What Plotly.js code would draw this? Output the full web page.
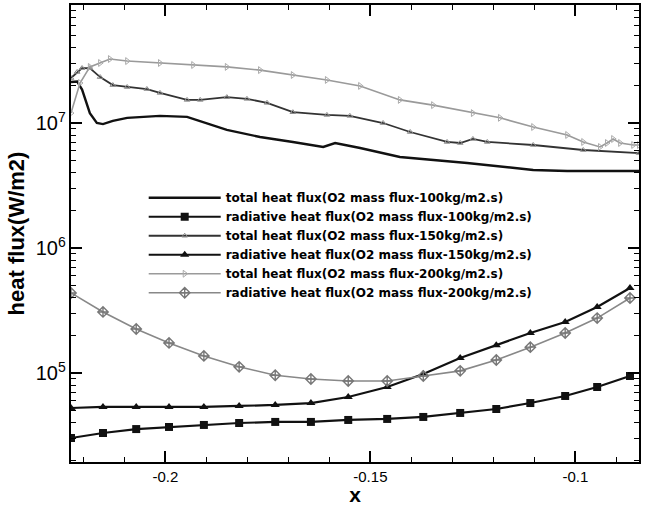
<!DOCTYPE html>
<html>
<head>
<meta charset="utf-8">
<script src="https://cdn.plot.ly/plotly-3.0.1.min.js"></script>
<style>html,body{margin:0;padding:0;background:#fff;}#chart{width:645px;height:506px;}</style>
</head>
<body>
<div id="chart"></div>
<script>
// Series names
const seriesNames = [
  'total heat flux(O2 mass flux-100kg/m2.s)',
  'radiative heat flux(O2 mass flux-100kg/m2.s)',
  'total heat flux(O2 mass flux-150kg/m2.s)',
  'radiative heat flux(O2 mass flux-150kg/m2.s)',
  'total heat flux(O2 mass flux-200kg/m2.s)',
  'radiative heat flux(O2 mass flux-200kg/m2.s)'
];

// total heat flux, 100 kg/m2.s
const xTotal100 = [-0.223,-0.2215,-0.2203,-0.2184,-0.2167,-0.2152,-0.2128,-0.2093,-0.2013,-0.1947,-0.1850,-0.1769,-0.1689,-0.1647,-0.1615,-0.1586,-0.1525,-0.1428,-0.1264,-0.1103,-0.1020,-0.0845];
const yTotal100 = [2.13e7,2.15e7,1.85e7,1.20e7,1.00e7,9.8e6,1.04e7,1.10e7,1.14e7,1.12e7,8.8e6,7.73e6,7.05e6,6.67e6,6.43e6,6.92e6,6.31e6,5.35e6,4.79e6,4.21e6,4.13e6,4.13e6];

// total heat flux, 150 kg/m2.s
const xTotal150 = [-0.223,-0.2215,-0.2203,-0.2184,-0.2159,-0.2128,-0.2093,-0.2045,-0.2013,-0.1947,-0.1915,-0.1850,-0.1801,-0.1752,-0.1689,-0.1606,-0.1550,-0.1469,-0.1403,-0.1313,-0.1281,-0.1250,-0.1215,-0.1103,-0.0981,-0.0845];
const yTotal150 = [2.29e7,2.56e7,2.75e7,2.75e7,2.33e7,2.01e7,1.94e7,1.87e7,1.74e7,1.53e7,1.53e7,1.61e7,1.56e7,1.45e7,1.22e7,1.16e7,1.14e7,1.00e7,8.47e6,7.05e6,6.92e6,7.45e6,7.05e6,6.67e6,6.08e6,5.75e6];

// total heat flux, 200 kg/m2.s
const xTotal200 = [-0.223,-0.2208,-0.2184,-0.2159,-0.2135,-0.2093,-0.2013,-0.1932,-0.1850,-0.1769,-0.1689,-0.1606,-0.1525,-0.1428,-0.1347,-0.1250,-0.1184,-0.1103,-0.1020,-0.0981,-0.0940,-0.0923,-0.0908,-0.0891,-0.0859,-0.0845];
const yTotal200 = [1.20e7,2.09e7,2.81e7,3.02e7,3.25e7,3.13e7,3.02e7,2.91e7,2.81e7,2.65e7,2.42e7,2.21e7,1.98e7,1.53e7,1.39e7,1.20e7,1.10e7,9.29e6,8.02e6,7.05e6,6.43e6,6.92e6,7.45e6,6.92e6,6.67e6,6.67e6];

// radiative heat flux, sampled positions (shared by the three radiative series)
const xRad = [-0.223,-0.2152,-0.2071,-0.1991,-0.1906,-0.1820,-0.1732,-0.1645,-0.1554,-0.1459,-0.1371,-0.1281,-0.1193,-0.1110,-0.1025,-0.0947,-0.0867];
const yRad100 = [3.02e4,3.31e4,3.56e4,3.70e4,3.84e4,3.98e4,4.06e4,4.06e4,4.21e4,4.29e4,4.45e4,4.79e4,5.15e4,5.75e4,6.55e4,7.73e4,9.46e4];
const yRad150 = [5.25e4,5.35e4,5.35e4,5.35e4,5.35e4,5.45e4,5.55e4,5.75e4,6.43e4,7.73e4,9.82e4,1.32e5,1.67e5,2.09e5,2.56e5,3.37e5,4.79e5];
const yRad200 = [4.37e5,3.08e5,2.25e5,1.74e5,1.37e5,1.12e5,9.6e4,8.95e4,8.63e4,8.63e4,9.46e4,1.04e5,1.27e5,1.61e5,2.09e5,2.75e5,3.98e5];

const xTickVals = [-0.2,-0.15,-0.1];
const xTickText = ['-0.2','-0.15','-0.1'];

const FONT = 'Liberation Sans, Arial, sans-serif';
const LEGFONT = 'DejaVu Sans, Liberation Sans, sans-serif';

const traces = [
  {x:xTotal100, y:yTotal100, name:seriesNames[0], mode:'lines',
   line:{color:'#111', width:2.4}},
  {x:xRad, y:yRad100, name:seriesNames[1], mode:'lines+markers',
   line:{color:'#111', width:2.2}, marker:{symbol:'square', size:8, color:'#111'}},
  {x:xTotal150, y:yTotal150, name:seriesNames[2], mode:'lines+markers',
   line:{color:'#333', width:1.8}, marker:{symbol:'triangle-up-open', size:5, color:'#888', line:{width:1}}},
  {x:xRad, y:yRad150, name:seriesNames[3], mode:'lines+markers',
   line:{color:'#111', width:2.2}, marker:{symbol:'triangle-up', size:8, color:'#111'}},
  {x:xTotal200, y:yTotal200, name:seriesNames[4], mode:'lines+markers',
   line:{color:'#9a9a9a', width:1.6}, marker:{symbol:'triangle-right-open', size:6, color:'#aaa', line:{width:1}}},
  {x:xRad, y:yRad200, name:seriesNames[5], mode:'lines+markers',
   line:{color:'#888', width:1.6}, marker:{symbol:'diamond-cross-open', size:8, color:'#777', line:{width:1.4}}}
];

const layout = {
  width:645, height:506,
  margin:{l:71, r:6, t:5, b:44},
  paper_bgcolor:'#fff', plot_bgcolor:'#fff',
  font:{family:FONT, color:'#000', size:15},
  showlegend:true,
  legend:{x:0.128, y:0.61, xanchor:'left', yanchor:'top', bgcolor:'rgba(0,0,0,0)',
          font:{family:LEGFONT, size:12, color:'#000', weight:'bold'}, itemwidth:72, tracegroupgap:0},
  xaxis:{range:[-0.223,-0.0845], tickvals:xTickVals, ticktext:xTickText,
         ticks:'inside', ticklen:11, tickwidth:2, tickcolor:'#000',
         showline:true, linewidth:2, linecolor:'#000', mirror:'ticks',
         showgrid:false, zeroline:false,
         minor:{dtick:0.01, ticks:'inside', ticklen:5, tickwidth:1, tickcolor:'#000', showgrid:false},
         tickfont:{size:15, family:FONT},
         title:{text:'x', font:{size:21, family:FONT, weight:'bold'}, standoff:2}},
  yaxis:{type:'log', range:[4.288,7.944], dtick:1, exponentformat:'power', showexponent:'all',
         ticks:'inside', ticklen:11, tickwidth:2, tickcolor:'#000',
         showline:true, linewidth:2, linecolor:'#000', mirror:'ticks',
         showgrid:false, zeroline:false,
         minor:{ticks:'inside', ticklen:5, tickwidth:1, tickcolor:'#000', showgrid:false},
         tickfont:{size:16, family:FONT},
         title:{text:'heat flux(W/m2)', font:{size:22, family:FONT, weight:'bold'}, standoff:5}}
};

Plotly.newPlot('chart', traces, layout, {displayModeBar:false, staticPlot:true});
</script>
</body>
</html>
